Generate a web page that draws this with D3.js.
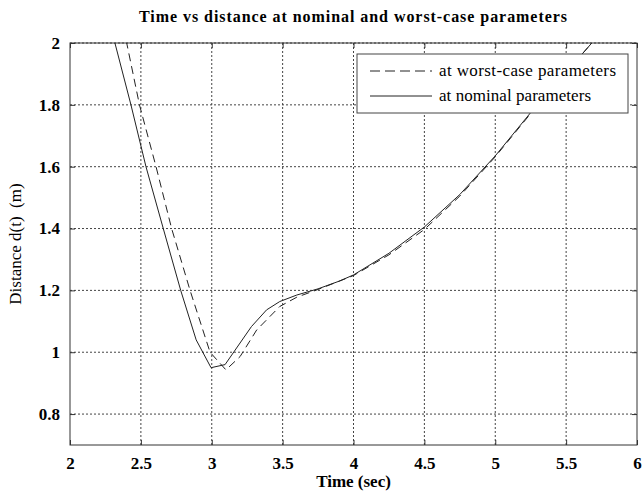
<!DOCTYPE html>
<html>
<head>
<meta charset="utf-8">
<script src="https://cdn.jsdelivr.net/npm/d3@7"></script>
<style>
  body { margin: 0; background: #fff; }
  text { font-family: "Liberation Serif", "Times New Roman", serif; fill: #000; }
</style>
</head>
<body>
<div id="chart"></div>
<script>
// nominal parameters (solid)
const nominalT = [2.25, 2.317, 2.43, 2.536, 2.658, 2.781, 2.89, 2.995, 3.094, 3.28, 3.387, 3.48, 3.6, 3.75, 3.9, 4.0, 4.25, 4.5, 4.75, 5.0, 5.25, 5.5, 5.7];
const nominalD = [2.12, 2.0, 1.8, 1.6, 1.4, 1.2, 1.04, 0.95, 0.96, 1.083, 1.137, 1.164, 1.185, 1.205, 1.23, 1.25, 1.32, 1.405, 1.51, 1.635, 1.775, 1.905, 2.01];

// worst-case parameters (dashed)
const worstT = [2.33, 2.40, 2.49, 2.607, 2.717, 2.847, 2.988, 3.10, 3.2, 3.317, 3.48, 3.6, 3.75, 4.0, 4.25, 4.5, 4.75, 5.0, 5.25, 5.5, 5.7];
const worstD = [2.13, 2.0, 1.8, 1.6, 1.4, 1.2, 1.0, 0.943, 0.986, 1.072, 1.148, 1.178, 1.203, 1.248, 1.315, 1.397, 1.505, 1.632, 1.772, 1.905, 2.01];

const xTicks = [2, 2.5, 3, 3.5, 4, 4.5, 5, 5.5, 6];
const yTicks = [0.8, 1, 1.2, 1.4, 1.6, 1.8, 2];

const legendLabels = ["at worst-case parameters", "at nominal parameters"];

const width = 643, height = 492;
const margin = { top: 43, right: 6, bottom: 47, left: 70 };
const iw = width - margin.left - margin.right;
const ih = height - margin.top - margin.bottom;

const svg = d3.select("#chart").append("svg")
  .attr("width", width)
  .attr("height", height);

const x = d3.scaleLinear().domain([2, 6]).range([0, iw]);
const y = d3.scaleLinear().domain([0.7, 2]).range([ih, 0]);

const g = svg.append("g").attr("transform", `translate(${margin.left},${margin.top})`);

svg.append("defs").append("clipPath").attr("id", "clip")
  .append("rect").attr("width", iw).attr("height", ih);

// grid
g.append("g").selectAll("line").data(xTicks.slice(1, -1)).join("line")
  .attr("x1", d => x(d)).attr("x2", d => x(d))
  .attr("y1", 0).attr("y2", ih)
  .attr("stroke", "#444").attr("stroke-dasharray", "2,2");
g.append("g").selectAll("line").data(yTicks).join("line")
  .attr("y1", d => y(d)).attr("y2", d => y(d))
  .attr("x1", 0).attr("x2", iw)
  .attr("stroke", "#444").attr("stroke-dasharray", "2,2");

// axes with inward ticks
const fmt = d3.format("");
const xb = g.append("g").attr("transform", `translate(0,${ih})`)
  .call(d3.axisBottom(x).tickValues(xTicks).tickSizeInner(-5).tickSizeOuter(0).tickPadding(12).tickFormat(fmt));
const xt = g.append("g")
  .call(d3.axisTop(x).tickValues(xTicks).tickSizeInner(-5).tickSizeOuter(0).tickFormat(""));
const yl = g.append("g")
  .call(d3.axisLeft(y).tickValues(yTicks).tickSizeInner(-5).tickSizeOuter(0).tickPadding(10).tickFormat(fmt));
const yr = g.append("g").attr("transform", `translate(${iw},0)`)
  .call(d3.axisRight(y).tickValues(yTicks).tickSizeInner(-5).tickSizeOuter(0).tickFormat(""));

[xb, xt, yl, yr].forEach(a => {
  a.attr("font-family", null);
  a.select(".domain").remove();
  a.selectAll("line").attr("stroke", "#333");
  a.selectAll("text")
    .style("font-family", '"Liberation Serif", serif')
    .style("font-size", "17px")
    .style("font-weight", "bold")
    .attr("fill", "#000");
});

g.append("rect").attr("width", iw).attr("height", ih)
  .attr("fill", "none").attr("stroke", "#333").attr("stroke-width", 1);

// curves
const line = d3.line().x(d => x(d[0])).y(d => y(d[1]));
const plot = g.append("g").attr("clip-path", "url(#clip)");
plot.append("path")
  .datum(d3.zip(worstT, worstD))
  .attr("d", line)
  .attr("fill", "none").attr("stroke", "#222").attr("stroke-width", 1)
  .attr("stroke-dasharray", "8,5");
plot.append("path")
  .datum(d3.zip(nominalT, nominalD))
  .attr("d", line)
  .attr("fill", "none").attr("stroke", "#222").attr("stroke-width", 1);

// legend
const lg = g.append("g").attr("transform", `translate(${357 - margin.left},${54 - margin.top})`);
lg.append("rect").attr("width", 271).attr("height", 59)
  .attr("fill", "#fff").attr("stroke", "#444");
lg.selectAll("line").data(legendLabels).join("line")
  .attr("x1", 13).attr("x2", 75)
  .attr("y1", (d, i) => 17 + i * 25).attr("y2", (d, i) => 17 + i * 25)
  .attr("stroke", "#222")
  .attr("stroke-dasharray", (d, i) => i === 0 ? "10,5" : null);
lg.selectAll("text").data(legendLabels).join("text")
  .attr("x", 82).attr("y", (d, i) => 22 + i * 25)
  .style("font-size", "17px")
  .attr("textLength", (d, i) => i === 0 ? 177 : 152)
  .attr("lengthAdjust", "spacing")
  .text(d => d);

// title and labels
svg.append("text")
  .attr("x", 353).attr("y", 22)
  .attr("text-anchor", "middle")
  .style("font-size", "16px").style("font-weight", "bold")
  .attr("textLength", 428).attr("lengthAdjust", "spacing")
  .text("Time vs distance at nominal and worst-case parameters");

svg.append("text")
  .attr("x", margin.left + iw / 2).attr("y", 487)
  .attr("text-anchor", "middle")
  .style("font-size", "17px").style("font-weight", "bold")
  .text("Time (sec)");

svg.append("text")
  .attr("transform", `translate(21,${margin.top + ih / 2}) rotate(-90)`)
  .attr("text-anchor", "middle")
  .style("font-size", "17px")
  .style("white-space", "pre")
  .text("Distance d(t)  (m)");
</script>
</body>
</html>
